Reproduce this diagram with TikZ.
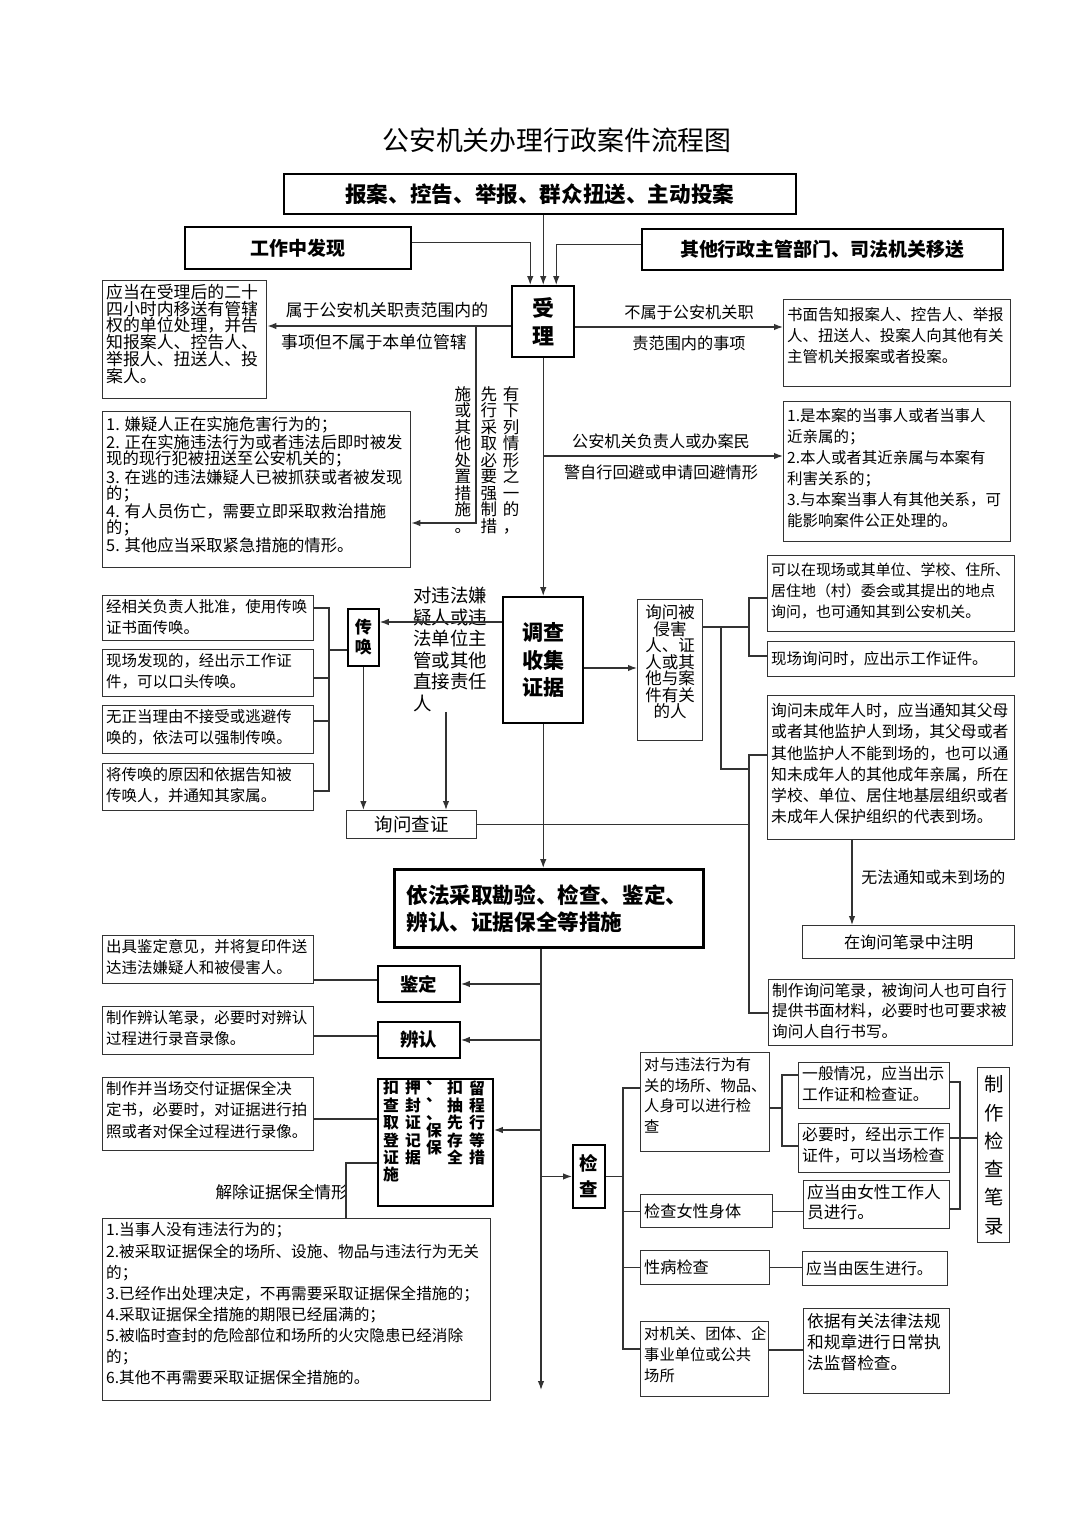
\documentclass[tikz,border=0pt]{standalone}
\usepackage{fontspec}
\setmainfont{Noto Sans CJK SC}
\usetikzlibrary{arrows.meta,positioning}

\begin{document}
\begin{tikzpicture}[x=0.02cm, y=-0.02cm,
  box/.style={draw=black!80, line width=0.8pt, anchor=north west, inner sep=0pt},
  head/.style={box, draw=black, line width=1pt, font=\bfseries\fontsize{10.8}{13}\selectfont},
  key/.style={box, draw=black, line width=1.4pt, align=center},
  inbox/.style={anchor=north west, align=left, inner xsep=2.2pt, inner ysep=2pt},
  fs/.style 2 args={font=\fontsize{#1}{#2}\selectfont},
  lbl/.style={inner sep=0pt, font=\fontsize{9.2}{11}\selectfont},
  vt/.style={anchor=north, align=center, inner sep=0pt, font=\fontsize{9.4}{9.4}\selectfont},
  pv/.style={anchor=north, align=center, inner sep=0pt, font=\bfseries\fontsize{9}{9.9}\selectfont},
  ln/.style={draw=black!80, line width=0.7pt},
  arr/.style={ln, -{Latex[length=1.8mm,width=1.3mm]}}]
  \useasboundingbox (0,0) rectangle (1080,1527);

  % title and sources
  \node[fs={15.3}{18}] (title) at (557,140) {公安机关办理行政案件流程图};
  \node[head, minimum width=10.24cm, minimum height=0.8cm, font=\bfseries\fontsize{12.3}{14}\selectfont] (src) at (283,173) {报案、控告、举报、群众扭送、主动投案};
  \node[head, minimum width=4.52cm, minimum height=0.84cm] (work) at (184,226) {工作中发现};
  \node[head, minimum width=7.22cm, minimum height=0.82cm] (other) at (641,228) {其他行政主管部门、司法机关移送};
  \node[key, minimum width=1.24cm, minimum height=1.42cm, font=\bfseries\fontsize{12.5}{16.4}\selectfont] (accept) at (511,285) {受\\理};
  \draw[arr] (src.south -| accept.north) -- (accept.north);
  \draw[arr] ([yshift=0.1cm]work.east) -| ([xshift=-0.26cm]accept.north);
  \draw[arr] ([yshift=0.1cm]other.west) -| ([xshift=0.26cm]accept.north);

  % left of accept
  \node[box, minimum width=3.28cm, minimum height=2.36cm, label={[inbox, fs={9.6}{9.6}]north west:{应当在受理后的二十\\四小时内移送有管辖\\权的单位处理，并告\\知报案人、控告人、\\举报人、扭送人、投\\案人。}}] (transfer) at (102,280) {};
  \node[box, minimum width=6.16cm, minimum height=3.12cm, label={[inbox, inner ysep=3pt, fs={9.3}{9.2}]north west:{1. 嫌疑人正在实施危害行为的；\\2. 正在实施违法行为或者违法后即时被发\\现的现行犯被扭送至公安机关的；\\3. 在逃的违法嫌疑人已被抓获或者被发现\\的；\\4. 有人员伤亡，需要立即采取救治措施\\的；\\5. 其他应当采取紧急措施的情形。}}] (urgent) at (102,411) {};
  \node[lbl, fs={9.6}{11}] (tl1) at (387,310) {属于公安机关职责范围内的};
  \node[lbl, fs={9.6}{11}] (tl2) at (374,342) {事项但不属于本单位管辖};
  \coordinate (tj) at (476,326);
  \draw[arr] (accept.west |- tj) -- (transfer.east |- tj);
  \draw[arr] (tj) -- (476,523) -- (urgent.east |- 0,523);
  \node[vt] (c1) at (511,386) {有\\下\\列\\情\\形\\之\\一\\的\\，};
  \node[vt] (c2) at (489,386) {先\\行\\采\\取\\必\\要\\强\\制\\措};
  \node[vt] (c3) at (463,386) {施\\或\\其\\他\\处\\置\\措\\施\\。};

  % right of accept
  \node[box, minimum width=4.54cm, minimum height=1.74cm, label={[inbox, inner ysep=4.5pt, fs={8.8}{11.9}]north west:{书面告知报案人、控告人、举报\\人、扭送人、投案人向其他有关\\主管机关报案或者投案。}}] (notify) at (783,299) {};
  \node[box, minimum width=4.54cm, minimum height=2.8cm, label={[inbox, inner ysep=4pt, fs={8.8}{11.9}]north west:{1.是本案的当事人或者当事人\\近亲属的；\\2.本人或者其近亲属与本案有\\利害关系的；\\3.与本案当事人有其他关系，可\\能影响案件公正处理的。}}] (avoid) at (783,401) {};
  \node[lbl] (nl1) at (689,312) {不属于公安机关职};
  \node[lbl] (nl2) at (689,343) {责范围内的事项};
  \node[lbl] (al1) at (661,441) {公安机关负责人或办案民};
  \node[lbl] (al2) at (661,472) {警自行回避或申请回避情形};
  \draw[arr] (accept.east |- 0,327) -- (notify.west |- 0,327);
  \draw[arr] (accept.south |- 0,456) -- (avoid.west |- 0,456);

  % investigation
  \node[key, minimum width=1.6cm, minimum height=2.52cm, font=\bfseries\fontsize{12}{15.5}\selectfont] (invest) at (502,596) {调查\\收集\\证据};
  \draw[arr] (accept.south) -- (accept.south |- invest.north);

  % summons
  \node[key, line width=1pt, minimum width=0.62cm, minimum height=1.14cm, font=\bfseries\fontsize{9.7}{11.3}\selectfont] (summon) at (347,608) {传\\唤};
  \node[anchor=north west, align=left, inner sep=0pt, fs={10.5}{12.2}] (target) at (413,587) {对违法嫌\\疑人或违\\法单位主\\管或其他\\直接责任\\人};
  \node[box, minimum width=2.6cm, minimum height=0.56cm, fs={10.5}{12}] (ask) at (346,810) {询问查证};
  \draw[arr] (invest.west |- 0,622) -- (summon.east |- 0,622);
  \draw[arr] (summon.south) -- (summon.south |- ask.north);
  \draw[arr] (target.south -| 446,0) -- (ask.north -| 446,0);
  \node[box, minimum width=4.22cm, minimum height=0.9cm, label={[inbox, inner ysep=2.5pt, fs={8.8}{12}]north west:{经相关负责人批准，使用传唤\\证书面传唤。}}] (sum1) at (102,595) {};
  \node[box, minimum width=4.22cm, minimum height=0.94cm, label={[inbox, inner ysep=2.5pt, fs={8.8}{12}]north west:{现场发现的，经出示工作证\\件，可以口头传唤。}}] (sum2) at (102,649) {};
  \node[box, minimum width=4.22cm, minimum height=0.96cm, label={[inbox, inner ysep=2.5pt, fs={8.8}{12}]north west:{无正当理由不接受或逃避传\\唤的，依法可以强制传唤。}}] (sum3) at (102,705) {};
  \node[box, minimum width=4.22cm, minimum height=0.94cm, label={[inbox, inner ysep=2.5pt, fs={8.8}{12}]north west:{将传唤的原因和依据告知被\\传唤人，并通知其家属。}}] (sum4) at (102,763) {};
  \coordinate (sb) at (329,650);
  \draw[ln] (sum1.east |- 0,608) -| (329,791) -- (sum4.east |- 0,791);
  \draw[ln] (sum2.east |- 0,678) -- (329,678);
  \draw[ln] (sum3.east |- 0,721) -- (329,721);
  \draw[ln] (sb) -- (summon.west |- sb);

  % questioning
  \node[box, minimum width=1.3cm, minimum height=2.82cm, label={[anchor=north, align=center, inner sep=3pt, fs={9.4}{9.4}]north:{询问被\\侵害\\人、证\\人或其\\他与案\\件有关\\的人}}] (victim) at (637,599) {};
  \node[box, minimum width=4.94cm, minimum height=1.52cm, label={[inbox, inner ysep=4.5pt, fs={8.5}{11.9}]north west:{可以在现场或其单位、学校、住所、\\居住地（村）委会或其提出的地点\\询问，也可通知其到公安机关。}}] (vr1) at (767,555) {};
  \node[box, minimum width=4.94cm, minimum height=0.7cm, label={[inbox, anchor=west, fs={8.8}{11}]west:{现场询问时，应出示工作证件。}}] (vr2) at (767,641) {};
  \node[box, minimum width=4.94cm, minimum height=2.88cm, label={[inbox, inner ysep=4.5pt, fs={9}{12.1}]north west:{询问未成年人时，应当通知其父母\\或者其他监护人到场，其父母或者\\其他监护人不能到场的，也可以通\\知未成年人的其他成年亲属，所在\\学校、单位、居住地基层组织或者\\未成年人保护组织的代表到场。}}] (minor) at (767,695) {};
  \node[box, minimum width=4.24cm, minimum height=0.66cm, fs={9.2}{11}] (note) at (802,925) {在询问笔录中注明};
  \node[box, minimum width=4.88cm, minimum height=1.32cm, label={[inbox, fs={8.9}{11.9}]north west:{制作询问笔录，被询问人也可自行\\提供书面材料，必要时也可要求被\\询问人自行书写。}}] (record) at (768,979) {};
  \node[lbl, anchor=west, fs={9.1}{11}] (nw) at (861,877) {无法通知或未到场的};
  \coordinate (vb) at (749,627);
  \draw[arr] (invest.east |- 0,668) -- (victim.west |- 0,668);
  \draw[ln] (victim.east |- vb) -- (vb);
  \draw[ln] (vr1.west |- 0,598) -| (749,656) -- (vr2.west |- 0,656);
  \draw[ln] (721,627) |- (749,769);
  \draw[ln] (minor.west |- 0,755) -| (749,1013) -- (record.west |- 0,1013);
  \draw[ln] (ask.east) -- (ask.east -| vb);
  \draw[arr] (minor.south -| 852,0) -- (note.north -| 852,0);

  % measures
  \node[key, line width=1.7pt, minimum width=6.18cm, minimum height=1.56cm, text width=5.7cm, align=left, font=\bfseries\fontsize{12.3}{15.3}\selectfont] (measure) at (393,868) {依法采取勘验、检查、鉴定、\\辨认、证据保全等措施};
  \draw[arr] (invest.south) -- (invest.south |- measure.north);
  \coordinate (mb) at (541,1390);
  \draw[arr] (measure.south -| mb) -- (mb);
  \node[key, line width=1.1pt, minimum width=1.64cm, minimum height=0.72cm, font=\bfseries\fontsize{10.5}{12}\selectfont] (appraise) at (377,965) {鉴定};
  \node[key, line width=1.1pt, minimum width=1.64cm, minimum height=0.72cm, font=\bfseries\fontsize{10.5}{12}\selectfont] (identify) at (377,1021) {辨认};
  \node[key, line width=1.1pt, minimum width=2.3cm, minimum height=2.54cm] (preserve) at (377,1078) {};
  \node[pv] (p1) at (477,1080) {留\\程\\行\\等\\措};
  \node[pv] (p2) at (455,1080) {扣\\抽\\先\\存\\全};
  \node[pv] (p3) at (434,1080) {、\\、\\、\\保\\保};
  \node[pv] (p4) at (413,1080) {押\\封\\证\\记\\据};
  \node[pv] (p5) at (391,1080) {扣\\查\\取\\登\\证\\施};
  \draw[arr] (mb |- appraise.east) -- (appraise.east);
  \draw[arr] (mb |- identify.east) -- (identify.east);
  \draw[arr] (mb |- 0,1130) -- (preserve.east |- 0,1130);
  \node[box, minimum width=4.22cm, minimum height=0.96cm, label={[inbox, inner ysep=2.5pt, fs={8.8}{12}]north west:{出具鉴定意见，并将复印件送\\达违法嫌疑人和被侵害人。}}] (app) at (102,935) {};
  \node[box, minimum width=4.22cm, minimum height=0.96cm, label={[inbox, inner ysep=2.5pt, fs={8.8}{12}]north west:{制作辨认笔录，必要时对辨认\\过程进行录音录像。}}] (idt) at (102,1006) {};
  \node[box, minimum width=4.22cm, minimum height=1.46cm, label={[inbox, inner ysep=2.5pt, fs={8.8}{12}]north west:{制作并当场交付证据保全决\\定书，必要时，对证据进行拍\\照或者对保全过程进行录像。}}] (prestext) at (102,1077) {};
  \draw[ln] (appraise.west |- 0,980) -- (app.east |- 0,980);
  \draw[ln] (identify.west |- 0,1036) -- (idt.east |- 0,1036);
  \draw[ln] (preserve.west |- 0,1119) -- (prestext.east |- 0,1119);
  \node[box, minimum width=7.76cm, minimum height=3.64cm, label={[inbox, inner ysep=2.5pt, fs={8.9}{12}]north west:{1.当事人没有违法行为的；\\2.被采取证据保全的场所、设施、物品与违法行为无关\\的；\\3.已经作出处理决定，不再需要采取证据保全措施的；\\4.采取证据保全措施的期限已经届满的；\\5.被临时查封的危险部位和场所的火灾隐患已经消除\\的；\\6.其他不再需要采取证据保全措施的。}}] (release) at (102,1218) {};
  \node[lbl, anchor=east, fs={9.4}{11}] (rl) at (348,1192) {解除证据保全情形};
  \draw[ln] (preserve.west |- 0,1163) -| (release.north -| 346,0);

  % inspection
  \node[key, line width=1.1pt, minimum width=0.64cm, minimum height=1.26cm, font=\bfseries\fontsize{10.5}{14.7}\selectfont] (inspect) at (572,1144) {检\\查};
  \draw[arr] (mb |- inspect.west) -- (inspect.west);
  \node[box, minimum width=2.58cm, minimum height=1.98cm, label={[inbox, inner ysep=3pt, fs={8.7}{11.7}]north west:{对与违法行为有\\关的场所、物品、\\人身可以进行检\\查}}] (ins1) at (640,1052) {};
  \node[box, minimum width=2.64cm, minimum height=0.66cm, label={[inbox, anchor=west, fs={9.2}{11}]west:{检查女性身体}}] (ins2) at (640,1194) {};
  \node[box, minimum width=2.58cm, minimum height=0.68cm, label={[inbox, anchor=west, fs={9.2}{11}]west:{性病检查}}] (ins3) at (640,1250) {};
  \node[box, minimum width=2.56cm, minimum height=1.5cm, label={[inbox, inner ysep=3pt, fs={8.7}{11.9}]north west:{对机关、团体、企\\事业单位或公共\\场所}}] (ins4) at (640,1321) {};
  \node[box, minimum width=3.02cm, minimum height=0.92cm, label={[inbox, fs={9}{11.9}]north west:{一般情况，应当出示\\工作证和检查证。}}] (req1) at (798,1062) {};
  \node[box, minimum width=3.02cm, minimum height=0.98cm, label={[inbox, fs={9}{11.9}]north west:{必要时，经出示工作\\证件，可以当场检查}}] (req2) at (798,1123) {};
  \node[box, minimum width=2.92cm, minimum height=0.96cm, label={[inbox, fs={9.5}{11.9}]north west:{应当由女性工作人\\员进行。}}] (req3) at (803,1180) {};
  \node[box, minimum width=2.9cm, minimum height=0.68cm, label={[inbox, anchor=west, fs={9}{11}]west:{应当由医生进行。}}] (req4) at (802,1251) {};
  \node[box, minimum width=2.92cm, minimum height=1.7cm, label={[inbox, inner ysep=3pt, fs={9.5}{11.9}]north west:{依据有关法律法规\\和规章进行日常执\\法监督检查。}}] (req5) at (803,1308) {};
  \node[box, minimum width=0.64cm, minimum height=3.5cm, align=center, fs={11}{16.1}] (insrec) at (977,1067) {制\\作\\检\\查\\笔\\录};
  \coordinate (ib) at (623,1178);
  \draw[ln] (inspect.east) -- (inspect.east -| ib);
  \draw[ln] (ins1.west |- 0,1088) -| (623,1349) -- (ins4.west |- 0,1349);
  \draw[ln] (ins2.west) -- (ins2.west -| ib);
  \draw[ln] (ins3.west) -- (ins3.west -| ib);
  \draw[ln] (ins1.east |- 0,1108) -- (782,1108);
  \draw[ln] (req1.west |- 0,1075) -| (782,1146) -- (req2.west |- 0,1146);
  \draw[ln] (ins2.east) -- (req3.west |- ins2.east);
  \draw[ln] (ins3.east) -- (req4.west |- ins3.east);
  \draw[ln] (ins4.east |- 0,1350) -- (req5.west |- 0,1350);
  \draw[ln] (req1.east |- 0,1082) -| (960,1209) -- (req3.east |- 0,1209);
  \draw[ln] (req2.east |- 0,1138) -- (insrec.west |- 0,1138);
\end{tikzpicture}
\end{document}
